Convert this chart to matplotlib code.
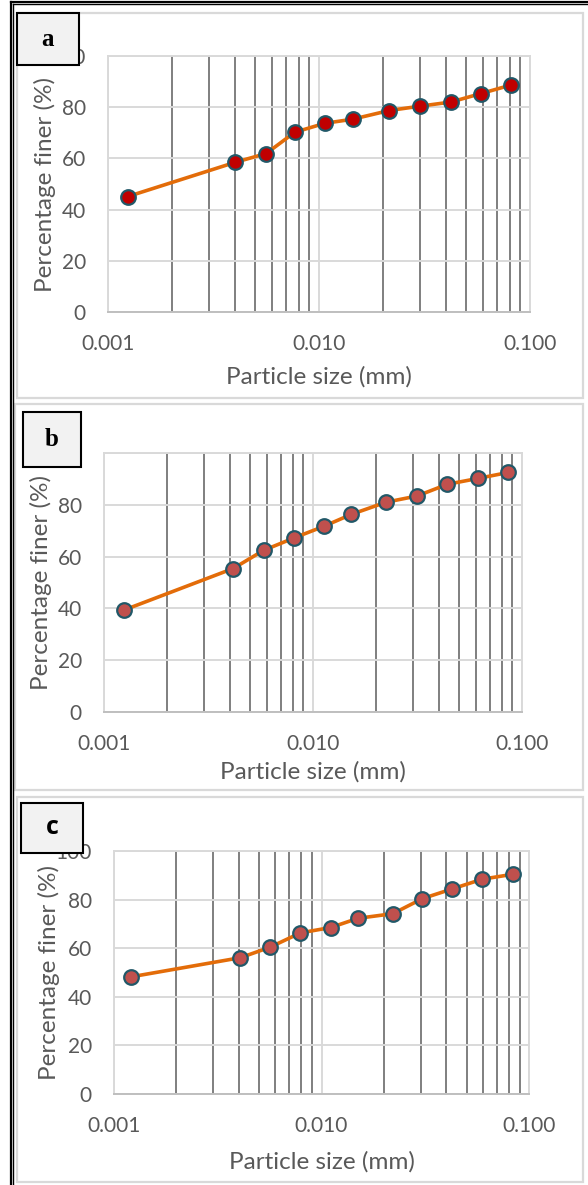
import matplotlib
matplotlib.use('Agg')
import matplotlib.pyplot as plt
from matplotlib.ticker import LogLocator, FixedLocator, FixedFormatter, NullFormatter
from matplotlib.patches import Rectangle
from matplotlib.lines import Line2D

W, H, DPI = 588, 1185, 100

# ---- data ----
size_a = [0.00124, 0.00402, 0.00562, 0.00767, 0.01064, 0.01442, 0.0215, 0.0301, 0.0421, 0.0584, 0.0816]
finer_a = [45.1, 58.5, 61.9, 70.2, 73.7, 75.3, 78.7, 80.4, 82.0, 85.3, 88.7]
size_b = [0.00125, 0.00415, 0.0058, 0.00811, 0.01128, 0.01524, 0.02236, 0.03148, 0.04383, 0.0617, 0.0861]
finer_b = [39.4, 55.4, 62.4, 67.2, 71.7, 76.3, 81.0, 83.4, 87.9, 90.2, 92.5]
size_c = [0.001205, 0.00407, 0.00565, 0.00791, 0.01107, 0.01499, 0.02206, 0.03062, 0.04268, 0.0595, 0.0833]
finer_c = [48.2, 56.1, 60.4, 66.3, 68.5, 72.3, 74.2, 80.4, 84.4, 88.4, 90.4]

x_ticks = [0.001, 0.01, 0.1]
x_labels = ['0.001', '0.010', '0.100']
y_ticks = [0, 20, 40, 60, 80, 100]
y_labels_a = ['0', '20', '40', '60', '80', '100']
y_labels_b = ['0', '20', '40', '60', '80', '']   # "100" is fully hidden behind box b
y_labels_c = ['0', '20', '40', '60', '80', '100']
letters = ['a', 'b', 'c']
x_title = 'Particle size (mm)'
y_title = 'Percentage finer (%)'

series = [(size_a, finer_a), (size_b, finer_b), (size_c, finer_c)]
ylabel_sets = [y_labels_a, y_labels_b, y_labels_c]
face_colors = ['#C00000', '#C0504D', '#C0504D']

# ---- layout in pixels ----
layout = [
    dict(frame=(17, 13, 583, 398), axes=(108, 56, 530, 312), box=(17, 13, 79, 65), ylab_x=45, xlab_y=377,
         font=dict(family='Liberation Serif', weight='bold')),
    dict(frame=(15, 404, 583, 790), axes=(104, 453, 522, 712), box=(23, 412, 81, 467), ylab_x=41, xlab_y=772,
         font=dict(family='Liberation Serif', weight='bold')),
    dict(frame=(17, 797, 583, 1182), axes=(114, 851, 529, 1094), box=(21, 803, 83, 853), ylab_x=49, xlab_y=1162,
         font=dict(family='Open Sans', weight='bold')),
]

plt.rcParams['font.family'] = ['Lato', 'DejaVu Sans']
fig = plt.figure(figsize=(W / DPI, H / DPI), dpi=DPI)
fig.patch.set_facecolor('white')


def fx(px):
    return px / W


def fy(py):
    return 1 - py / H


TXT = '#595959'
for i, (lay, (xs, ys)) in enumerate(zip(layout, series)):
    x0, y0, x1, y1 = lay['frame']
    fig.patches.append(Rectangle((fx(x0), fy(y1)), fx(x1 - x0), (y1 - y0) / H, transform=fig.transFigure,
                                 fill=False, edgecolor='#d9d9d9', lw=1.6, zorder=-1))
    ax0, ay0, ax1, ay1 = lay['axes']
    ax = fig.add_axes([fx(ax0), fy(ay1), fx(ax1 - ax0), (ay1 - ay0) / H])
    ax.set_xscale('log')
    ax.set_xlim(0.001, 0.1)
    ax.set_ylim(0, 100)
    ax.xaxis.set_major_locator(FixedLocator(x_ticks))
    ax.xaxis.set_major_formatter(FixedFormatter(x_labels))
    ax.xaxis.set_minor_locator(LogLocator(base=10, subs=[2, 3, 4, 5, 6, 7, 8, 9]))
    ax.xaxis.set_minor_formatter(NullFormatter())
    ax.yaxis.set_major_locator(FixedLocator(y_ticks))
    ax.yaxis.set_major_formatter(FixedFormatter(ylabel_sets[i]))
    ax.set_axisbelow(True)
    ax.grid(True, which='major', axis='both', color='#d9d9d9', lw=1.4)
    ax.grid(True, which='minor', axis='x', color='#7f7f7f', lw=1.4)
    for s in ax.spines.values():
        s.set_color('#d9d9d9')
        s.set_linewidth(1.4)
    ax.spines['bottom'].set_color('#bfbfbf')
    ax.tick_params(which='both', length=0, labelsize=15, labelcolor=TXT)
    ax.tick_params(axis='x', pad=16)
    ax.tick_params(axis='y', pad=16)
    ax.plot(xs, ys, color='#E36C09', lw=2.6, marker='o', markersize=10.5,
            markerfacecolor=face_colors[i], markeredgecolor='#215868', markeredgewidth=1.6, zorder=3)
    ax.set_xlabel(x_title, fontsize=17.5, color=TXT)
    ax.set_ylabel(y_title, fontsize=17.5, color=TXT)
    ax.xaxis.set_label_coords(0.5, (ay1 - lay['xlab_y']) / (ay1 - ay0))
    ax.yaxis.set_label_coords((lay['ylab_x'] - ax0) / (ax1 - ax0), 0.5)
    ax.xaxis.label.set_va('center')
    ax.yaxis.label.set_va('center')
    bx0, by0, bx1, by1 = lay['box']
    fig.patches.append(Rectangle((fx(bx0), fy(by1)), fx(bx1 - bx0), (by1 - by0) / H, transform=fig.transFigure,
                                 facecolor='#f2f2f2', edgecolor='black', lw=1.5, zorder=10))
    fig.text(fx((bx0 + bx1) / 2), fy((by0 + by1) / 2), letters[i], ha='center', va='center',
             fontsize=18, color='black', zorder=11, **lay['font'])

# black outer frame (left and top)
for off in (0, 2):
    fig.lines.append(Line2D([fx(11 + off), fx(11 + off)], [fy(2 + off), 0], transform=fig.transFigure,
                            color='black', lw=1.0 if off else 1.6, zorder=12))
    fig.lines.append(Line2D([fx(11 + off), 1], [fy(2 + off), fy(2 + off)], transform=fig.transFigure,
                            color='black', lw=1.0 if off else 1.6, zorder=12))

fig.savefig('out.png', dpi=DPI)
